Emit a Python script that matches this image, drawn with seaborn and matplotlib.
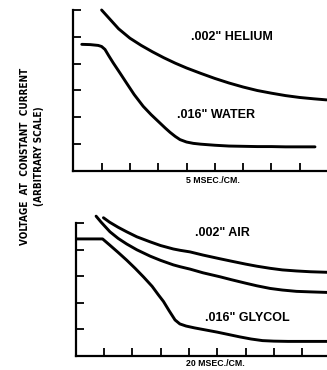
import matplotlib
matplotlib.use("Agg")
import matplotlib.pyplot as plt
from matplotlib import font_manager
from matplotlib.font_manager import FontProperties
import seaborn as sns

# ---- curve data (x in scale divisions, y in arbitrary voltage units) ----
helium_x = [1.0, 1.3, 1.6, 2.0, 2.4, 2.8, 3.2, 3.6, 4.0, 4.5, 5.0, 5.5, 6.0, 6.5, 7.0, 7.5, 8.0, 8.5, 8.95]
helium_y = [6.0, 5.65, 5.3, 4.95, 4.68, 4.44, 4.22, 4.02, 3.84, 3.64, 3.45, 3.28, 3.13, 3.0, 2.9, 2.81, 2.74, 2.69, 2.65]

water_x = [0.3, 0.6, 0.88, 1.0, 1.12, 1.25, 1.41, 1.65, 1.88, 2.15, 2.47, 2.75, 3.06, 3.25, 3.42, 3.6,
           3.77, 4.0, 4.24, 4.5, 5.0, 5.5, 6.0, 6.5, 7.0, 7.5, 8.0, 8.54]
water_y = [4.72, 4.71, 4.68, 4.64, 4.53, 4.3, 4.03, 3.65, 3.28, 2.85, 2.41, 2.1, 1.79, 1.6, 1.44, 1.29,
           1.17, 1.08, 1.03, 1.0, 0.96, 0.93, 0.92, 0.91, 0.91, 0.9, 0.9, 0.9]

air_x = [0.98, 1.2, 1.5, 1.8, 2.16, 2.63, 3.0, 3.45, 3.69, 4.04, 4.5, 5.1, 5.5, 6.0, 6.4, 6.87, 7.3, 7.8, 8.3, 8.88]
air_y = [5.21, 5.04, 4.85, 4.68, 4.49, 4.3, 4.16, 4.03, 3.98, 3.92, 3.8, 3.66, 3.57, 3.46, 3.38, 3.3, 3.24, 3.2, 3.17, 3.15]

air2_x = [0.72, 0.9, 1.21, 1.5, 1.8, 2.16, 2.63, 3.0, 3.45, 3.69, 4.04, 4.5, 5.1, 5.5, 6.0, 6.4, 6.87,
          7.3, 7.8, 8.3, 8.88]
air2_y = [5.27, 5.04, 4.68, 4.43, 4.22, 4.0, 3.76, 3.6, 3.43, 3.36, 3.27, 3.13, 2.98, 2.87, 2.74, 2.64, 2.54,
          2.48, 2.43, 2.41, 2.39]

glycol_x = [0.05, 0.5, 0.95, 1.2, 1.5, 1.8, 2.1, 2.4, 2.7, 2.92, 3.1, 3.3, 3.51, 3.68, 3.9, 4.2, 4.6, 5.0,
            5.4, 5.8, 6.2, 6.6, 7.0, 7.5, 8.0, 8.5, 8.88]
glycol_y = [4.41, 4.41, 4.41, 4.18, 3.9, 3.61, 3.3, 2.97, 2.62, 2.3, 2.05, 1.7, 1.35, 1.2, 1.12, 1.05, 0.97,
            0.89, 0.8, 0.71, 0.63, 0.57, 0.55, 0.54, 0.54, 0.54, 0.54]

top_labels = ['.002" HELIUM', '.016" WATER']
bottom_labels = ['.002" AIR', '.016" GLYCOL']
top_scale = "5 MSEC./CM."
bottom_scale = "20 MSEC./CM."
ylabel_lines = ["VOLTAGE  AT  CONSTANT  CURRENT", "(ARBITRARY SCALE)"]

sns.set_style("white")
plt.rcParams["font.family"] = ["Liberation Sans", "DejaVu Sans"]


def condensed_bold():
    """Pick a bold, narrow sans face for the vertical axis title if one is installed."""
    narrow_names = ("Liberation Sans Narrow", "Roboto Condensed", "Open Sans Condensed",
                    "DejaVu Sans Condensed", "Noto Sans Condensed")
    cands = []
    for f in font_manager.fontManager.ttflist:
        weight = f.weight if isinstance(f.weight, int) else font_manager.weight_dict.get(f.weight, 400)
        stretch = str(f.stretch)
        is_narrow = f.name in narrow_names or "condensed" in stretch or "narrow" in f.fname.lower() \
            or "condensed" in f.fname.lower()
        if is_narrow and weight >= 600 and "italic" not in str(f.style) and "oblique" not in str(f.style):
            cands.append(f)
    if cands:
        return FontProperties(fname=cands[0].fname, size=7.1)
    return FontProperties(family="Liberation Sans", weight="bold", size=6.9)


W, H = 327, 370
fig = plt.figure(figsize=(W / 100, H / 100), dpi=100)
fig.patch.set_facecolor("white")


def px_axes(left, top, right, bottom):
    return fig.add_axes([left / W, 1 - bottom / H, (right - left) / W, (bottom - top) / H])


ax_top = px_axes(73.3, 10, W, 171)
ax_bot = px_axes(75.7, 223.3, W, 355.7)

line_kw = dict(color="black", linewidth=2.1, sort=False, estimator=None, legend=False, clip_on=False)

sns.lineplot(x=helium_x, y=helium_y, ax=ax_top, **line_kw)
sns.lineplot(x=water_x, y=water_y, ax=ax_top, **line_kw)
sns.lineplot(x=air_x, y=air_y, ax=ax_bot, **line_kw)
sns.lineplot(x=air2_x, y=air2_y, ax=ax_bot, **line_kw)
sns.lineplot(x=glycol_x, y=glycol_y, ax=ax_bot, **line_kw)

for ax, xmax, ymax in [(ax_top, (W - 73.3) / 28.3, 6.0), (ax_bot, (W - 75.7) / 28.3, 5.0)]:
    ax.set_xlim(0, xmax)
    ax.set_ylim(0, ymax)
    ax.set_facecolor("white")
    ax.set_xticks(range(1, 9))
    ax.set_yticks(range(1, int(ymax) + 1))
    ax.tick_params(axis="both", which="major", direction="in", bottom=True, left=True,
                   labelbottom=False, labelleft=False, color="black", width=1.3)
    ax.tick_params(axis="x", length=6)
    ax.tick_params(axis="y", length=5.5)
    for side in ("top", "right"):
        ax.spines[side].set_visible(False)
    for side in ("left", "bottom"):
        ax.spines[side].set_color("black")
        ax.spines[side].set_linewidth(1.6)
    ax.set_xlabel("")
    ax.set_ylabel("")

label_kw = dict(fontsize=9, fontweight="bold", color="black", ha="left", va="center")
ax_top.text(4.15, 5.0, top_labels[0], **label_kw)
ax_top.text(3.65, 2.1, top_labels[1], **label_kw)
ax_bot.text(4.22, 4.63, bottom_labels[0], **label_kw)
ax_bot.text(4.57, 1.42, bottom_labels[1], **label_kw)

scale_kw = dict(fontsize=6.3, fontweight="bold", color="black", ha="center", va="center")
fig.text(213 / W, 1 - 180.5 / H, top_scale, **scale_kw)
fig.text(215 / W, 1 - 364 / H, bottom_scale, **scale_kw)

yprops = condensed_bold()
ylab_kw = dict(color="black", rotation=90, ha="center", va="center", fontproperties=yprops)
fig.text(25 / W, 1 - 156 / H, ylabel_lines[0], **ylab_kw)
fig.text(39 / W, 1 - 156 / H, ylabel_lines[1], **ylab_kw)

fig.savefig("out.png", dpi=100, facecolor="white")
